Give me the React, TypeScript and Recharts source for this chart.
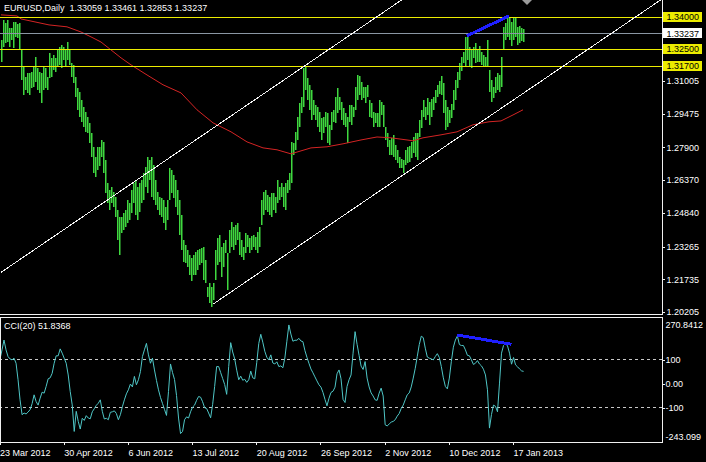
import { Bar, ComposedChart, Line, ReferenceLine, XAxis, YAxis } from "recharts";

const FONT = '"Liberation Sans", Arial, sans-serif';
const BG = "#000000";
const FRAME = "#f0f0f0";
const BAR_GREEN = "#3fd83f";
const MA_RED = "#d42424";
const CCI_TEAL = "#4fc6c6";
const LEVEL_YELLOW = "#ecec00";
const BID_GRAY = "#8a96a3";
const TREND_BLUE = "#1f1fff";
const CHANNEL_WHITE = "#f4f4f4";

const W = 706;
const H = 462;
const AXIS_X = 662;
const MAIN_H = 315;
const CCI_TOP = 316;
const CCI_H = 146;
const SLOTS = 331; // bar slots across the plot, the rest is empty space to the right

// x axis: bar index of each date label
const DATE_BARS = [0, 32, 64, 96, 128, 160, 192, 224, 256];
const DATE_LABELS = [
  "23 Mar 2012", "30 Apr 2012", "6 Jun 2012", "13 Jul 2012", "20 Aug 2012",
  "26 Sep 2012", "2 Nov 2012", "10 Dec 2012", "17 Jan 2013",
];

// EURUSD daily highs / lows
const HIGHS = [
  1.3293, 1.3387, 1.3372, 1.3386, 1.3349, 1.3349, 1.3377, 1.3377, 1.3368, 1.3372,
  1.3246, 1.3167, 1.3120, 1.3139, 1.3139, 1.3143, 1.3167, 1.3214, 1.3162, 1.3143,
  1.3139, 1.3167, 1.3160, 1.3120, 1.3232, 1.3209, 1.3223, 1.3209, 1.3246, 1.3260,
  1.3270, 1.3260, 1.3246, 1.3284, 1.3246, 1.3185, 1.3176, 1.3120, 1.3069, 1.3050,
  1.3012, 1.2980, 1.2956, 1.2933, 1.2905, 1.2858, 1.2793, 1.2746, 1.2793, 1.2790,
  1.2825, 1.2816, 1.2732, 1.2624, 1.2592, 1.2606, 1.2582, 1.2559, 1.2498, 1.2465,
  1.2465, 1.2484, 1.2498, 1.2545, 1.2531, 1.2592, 1.2624, 1.2638, 1.2606, 1.2624,
  1.2638, 1.2671, 1.2699, 1.2746, 1.2732, 1.2746, 1.2708, 1.2638, 1.2582, 1.2559,
  1.2554, 1.2545, 1.2512, 1.2545, 1.2694, 1.2685, 1.2662, 1.2638, 1.2592, 1.2545,
  1.2475, 1.2358, 1.2334, 1.2311, 1.2288, 1.2274, 1.2288, 1.2302, 1.2311, 1.2316,
  1.2320, 1.2325, 1.2264, 1.2138, 1.2157, 1.2138, 1.2157, 1.2311, 1.2367, 1.2381,
  1.2325, 1.2344, 1.2358, 1.2297, 1.2405, 1.2442, 1.2419, 1.2428, 1.2437, 1.2395,
  1.2358, 1.2325, 1.2391, 1.2381, 1.2367, 1.2376, 1.2381, 1.2372, 1.2395, 1.2419,
  1.2545, 1.2582, 1.2592, 1.2568, 1.2559, 1.2578, 1.2578, 1.2559, 1.2638, 1.2606,
  1.2624, 1.2606, 1.2624, 1.2638, 1.2671, 1.2816, 1.2811, 1.2863, 1.2933, 1.2998,
  1.3026, 1.3162, 1.3171, 1.3115, 1.3083, 1.3059, 1.3012, 1.2989, 1.2980, 1.2956,
  1.2928, 1.2933, 1.2956, 1.2952, 1.2896, 1.2956, 1.2966, 1.3026, 1.3069, 1.3026,
  1.3003, 1.2975, 1.2952, 1.2933, 1.2989, 1.2989, 1.2980, 1.3073, 1.3129, 1.3125,
  1.3097, 1.3073, 1.3073, 1.3083, 1.3012, 1.2998, 1.2956, 1.2952, 1.2952, 1.3012,
  1.3003, 1.2989, 1.2886, 1.2858, 1.2825, 1.2835, 1.2849, 1.2802, 1.2779, 1.2746,
  1.2737, 1.2732, 1.2779, 1.2793, 1.2797, 1.2816, 1.2839, 1.2858, 1.2858, 1.2919,
  1.2966, 1.3012, 1.2980, 1.3022, 1.3003, 1.3017, 1.3026, 1.3059, 1.3083, 1.3101,
  1.3125, 1.3092, 1.3012, 1.2980, 1.2966, 1.2994, 1.3059, 1.3106, 1.3143, 1.3185,
  1.3214, 1.3237, 1.3307, 1.3307, 1.3260, 1.3246, 1.3260, 1.3279, 1.3246, 1.3265,
  1.3237, 1.3223, 1.3214, 1.3293, 1.3153, 1.3106, 1.3073, 1.3120, 1.3139, 1.3129,
  1.3214, 1.3354, 1.3372, 1.3400, 1.3396, 1.3377, 1.3396, 1.3396, 1.3354, 1.3358,
  1.3349, 1.33461,
];

const LOWS = [
  1.3190, 1.3260, 1.3279, 1.3284, 1.3260, 1.3293, 1.3256, 1.3307, 1.3302, 1.3246,
  1.3106, 1.3036, 1.3059, 1.3045, 1.3036, 1.3069, 1.3073, 1.3097, 1.3059, 1.3045,
  1.2998, 1.3059, 1.3066, 1.3059, 1.3115, 1.3120, 1.3153, 1.3143, 1.3167, 1.3176,
  1.3162, 1.3199, 1.3167, 1.3199, 1.3176, 1.3120, 1.3092, 1.3026, 1.2966, 1.2933,
  1.2910, 1.2886, 1.2863, 1.2858, 1.2811, 1.2746, 1.2671, 1.2652, 1.2685, 1.2699,
  1.2746, 1.2671, 1.2578, 1.2531, 1.2498, 1.2531, 1.2512, 1.2465, 1.2358, 1.2288,
  1.2391, 1.2405, 1.2419, 1.2437, 1.2451, 1.2484, 1.2531, 1.2475, 1.2451, 1.2489,
  1.2531, 1.2545, 1.2606, 1.2578, 1.2638, 1.2559, 1.2545, 1.2521, 1.2498, 1.2475,
  1.2465, 1.2437, 1.2405, 1.2451, 1.2545, 1.2578, 1.2554, 1.2512, 1.2475, 1.2381,
  1.2311, 1.2255, 1.2250, 1.2232, 1.2194, 1.2166, 1.2194, 1.2194, 1.2218, 1.2241,
  1.2250, 1.2171, 1.2157, 1.2091, 1.2063, 1.2043, 1.2077, 1.2171, 1.2241, 1.2255,
  1.2185, 1.2232, 1.2297, 1.2124, 1.2297, 1.2325, 1.2311, 1.2334, 1.2358, 1.2288,
  1.2278, 1.2264, 1.2297, 1.2325, 1.2297, 1.2311, 1.2325, 1.2311, 1.2297, 1.2325,
  1.2428, 1.2475, 1.2498, 1.2489, 1.2475, 1.2465, 1.2498, 1.2484, 1.2531, 1.2545,
  1.2559, 1.2512, 1.2498, 1.2578, 1.2592, 1.2624, 1.2755, 1.2779, 1.2825, 1.2886,
  1.2952, 1.2980, 1.3059, 1.3012, 1.2966, 1.2919, 1.2942, 1.2919, 1.2886, 1.2863,
  1.2825, 1.2858, 1.2886, 1.2811, 1.2802, 1.2872, 1.2910, 1.2905, 1.2952, 1.2966,
  1.2919, 1.2896, 1.2886, 1.2811, 1.2910, 1.2896, 1.2933, 1.2966, 1.3012, 1.3036,
  1.3012, 1.3022, 1.2998, 1.3026, 1.2933, 1.2928, 1.2886, 1.2905, 1.2886, 1.2886,
  1.2942, 1.2886, 1.2825, 1.2793, 1.2755, 1.2755, 1.2746, 1.2732, 1.2718, 1.2694,
  1.2694, 1.2671, 1.2708, 1.2718, 1.2723, 1.2741, 1.2765, 1.2746, 1.2732, 1.2839,
  1.2882, 1.2933, 1.2919, 1.2942, 1.2896, 1.2933, 1.2966, 1.2998, 1.3026, 1.3041,
  1.3036, 1.2952, 1.2872, 1.2886, 1.2905, 1.2928, 1.2966, 1.3012, 1.3069, 1.3106,
  1.3148, 1.3185, 1.3167, 1.3199, 1.3171, 1.3162, 1.3209, 1.3185, 1.3190, 1.3190,
  1.3176, 1.3167, 1.3167, 1.3167, 1.3050, 1.3003, 1.3022, 1.3045, 1.3059, 1.3050,
  1.3073, 1.3246, 1.3293, 1.3307, 1.3293, 1.3265, 1.3293, 1.3307, 1.3270, 1.3279,
  1.3288, 1.32853,
];

// moving average, sampled where it could be read
const MA_BARS = [
  0, 8, 10, 24, 33, 40, 45, 50, 55, 60, 65, 73, 81, 90, 98, 106, 115, 123, 131,
  138, 145, 155, 163, 171, 180, 188, 195, 203, 206, 211, 220, 228, 236, 244, 250, 256, 261,
];
const MA_VALUES = [
  1.3410, 1.3405, 1.3391, 1.3363, 1.3354, 1.3330, 1.3307, 1.3283, 1.3246, 1.3209,
  1.3176, 1.3129, 1.3083, 1.3045, 1.2966, 1.2905, 1.2863, 1.2816, 1.2788, 1.2779,
  1.2760, 1.2788, 1.2793, 1.2807, 1.2825, 1.2839, 1.2835, 1.2825, 1.2821, 1.2835,
  1.2849, 1.2863, 1.2896, 1.2910, 1.2914, 1.2942, 1.2966,
];

// CCI(20)
const CCI = [
  103, 142, 183, 142, 114, 104, 100, 107, 86, 17,
  -67, -129, -122, -126, -118, -108, -83, -46, -74, -89,
  -60, -35, -39, -11, 21, 25, 44, 86, 117, 117,
  146, 128, 107, 86, 37, -32, -88, -199, -115, -157,
  -189, -144, -153, -133, -143, -146, -117, -104, -90, -81,
  -67, -115, -147, -144, -150, -119, -117, -113, -124, -150,
  -129, -96, -67, -42, -25, -1, -13, 31, -4, 17,
  51, 114, 142, 169, 121, 86, 107, 58, 14, -25,
  -57, -82, -107, -132, -32, 83, 47, 18, -49, -143,
  -208, -199, -150, -138, -143, -117, -97, -89, -69, -53,
  -56, -75, -100, -103, -122, -142, -86, -11, 72, 72,
  47, 22, -3, -44, 72, 172, 133, 104, 57, 17,
  32, 15, 19, 6, 17, 53, 25, 21, 90, 169,
  207, 174, 136, 111, 100, 121, 87, 83, 92, 72,
  75, 67, 108, 178, 246, 208, 178, 182, 182, 190,
  179, 176, 139, 111, 86, 62, 46, 29, 12, -4,
  -14, -36, -65, -92, -60, -36, -31, -14, 42, 58,
  21, -65, -78, -11, 17, 37, 128, 218, 165, 119,
  74, 60, 93, 24, -13, -38, -51, -67, -69, -39,
  -18, -51, -171, -176, -168, -160, -157, -150, -135, -124,
  -103, -89, -67, -46, -38, -13, 24, 65, 114, 164,
  199, 193, 149, 112, 107, 104, 100, 114, 126, 110,
  72, 25, -11, -21, 24, 94, 153, 183, 200, 164,
  160, 160, 142, 119, 117, 100, 81, 86, 97, 83,
  75, 61, 37, -25, -185, -128, -89, -94, -117, 3,
  128, 160, 169, 158, 128, 82, 110, 79, 71, 62,
  54, 52,
];

// price scale
const PRICE_MIN = 1.20065;
const PRICE_MAX = 1.34795;
const PRICE_TICKS = [1.34, 1.33237, 1.325, 1.317, 1.31005, 1.29475, 1.279, 1.2637, 1.2484, 1.23265, 1.21735, 1.20205];
const LEVELS = [1.34, 1.325, 1.317];
const BID = 1.33237;

// CCI scale
const CCI_MIN = -243.099;
const CCI_MAX = 270.8412;
const CCI_TICKS = [270.8412, 100, 0, -100, -243.099];
const CCI_TICK_LABELS = ["270.8412", "100", "0.00", "-100", "-243.099"];
const CCI_BANDS = [100, -100];

// hand drawn objects: [bar, value]
const CHANNEL_UPPER = [[0, 1.2206], [220, 1.3605]];
const CHANNEL_LOWER = [[106, 1.2057], [330, 1.3481]];
const PRICE_TREND = [[233, 1.3312], [254, 1.3405]];
const CCI_TREND = [[228, 204], [255, 165]];

const maByBar = new Map(MA_BARS.map((b, k) => [b, MA_VALUES[k]]));
const rows = Array.from({ length: SLOTS }, (_, i) => ({
  i,
  hl: i < HIGHS.length ? [LOWS[i], HIGHS[i]] : null,
  ma: maByBar.has(i) ? maByBar.get(i) : null,
  cci: i < CCI.length ? CCI[i] : null,
}));

const seg = (s: number[][]) => s.map(([x, y]) => ({ x, y }));

const CSS = `.recharts-surface line, .recharts-surface rect { shape-rendering: crispEdges; }`;

// 1px stroke with a soft right edge, like the MT4 bar chart at this zoom
function PriceBar(p: any) {
  if (!p.payload || !p.payload.hl || !isFinite(p.y) || !isFinite(p.height)) return <g />;
  const top = Math.round(Math.min(p.y, p.y + p.height));
  const h = Math.max(1, Math.round(Math.abs(p.height)));
  const left = Math.round(p.x + p.width / 2 - 0.5);
  return <rect x={left} y={top} width={1.5} height={h} fill={BAR_GREEN} style={{ shapeRendering: "auto" }} />;
}

function PriceTick({ y, payload }: any) {
  const v = payload.value;
  const box = LEVELS.includes(v) ? LEVEL_YELLOW : v === BID ? "#ffffff" : null;
  const yy = Math.round(y) + 0.5;
  return (
    <g>
      {box ? (
        <rect x={AXIS_X + 1} y={Math.round(y) - 5} width={39} height={10} fill={box} />
      ) : (
        <line x1={AXIS_X} x2={AXIS_X + 3} y1={yy} y2={yy} stroke={FRAME} />
      )}
      <text x={AXIS_X + 4.5} y={y + 3.3} fill={box ? "#000" : "#fff"} fontSize={9} fontFamily={FONT}>
        {v.toFixed(5)}
      </text>
    </g>
  );
}

function CciTick({ y, payload }: any) {
  const k = CCI_TICKS.indexOf(payload.value);
  const shift = k === 0 ? 6 : k === CCI_TICKS.length - 1 ? -5.3 : 0;
  const yy = Math.round(y) + 0.5;
  return (
    <g>
      {shift === 0 && <line x1={AXIS_X} x2={AXIS_X + 3} y1={yy} y2={yy} stroke={FRAME} />}
      <text x={AXIS_X + 3.5} y={y + shift + 3.3} fill="#fff" fontSize={9} fontFamily={FONT}>
        {CCI_TICK_LABELS[k]}
      </text>
    </g>
  );
}

function DateTick({ x, y, payload }: any) {
  const k = DATE_BARS.indexOf(payload.value);
  return (
    <text x={x} y={y + 9} fill="#fff" fontSize={9} fontFamily={FONT}>
      {DATE_LABELS[k]}
    </text>
  );
}

const line = (style: any) => <div style={{ position: "absolute", background: FRAME, ...style }} />;

export default function App() {
  return (
    <div style={{ position: "absolute", left: 0, top: 0, width: W, height: H, background: BG, overflow: "hidden" }}>
      <style>{CSS}</style>

      <div style={{ position: "absolute", left: 0, top: 0 }}>
        <ComposedChart width={W} height={MAIN_H + 4} data={rows} margin={{ top: 0, right: 0, bottom: 4, left: 0 }}>
          <XAxis dataKey="i" hide />
          <YAxis
            orientation="right"
            width={W - AXIS_X}
            domain={[PRICE_MIN, PRICE_MAX]}
            allowDataOverflow
            ticks={PRICE_TICKS}
            interval={0}
            axisLine={false}
            tickLine={false}
            tick={(p: any) => <PriceTick {...p} />}
          />
          <Bar
            dataKey="hl"
            barSize={1}
            fill={BAR_GREEN}
            shape={(p: any) => <PriceBar {...p} />}
            activeBar={false}
            isAnimationActive={false}
          />
          <Line
            type="linear"
            dataKey="ma"
            connectNulls
            dot={false}
            activeDot={false}
            stroke={MA_RED}
            strokeWidth={1}
            isAnimationActive={false}
          />
          {LEVELS.map((v) => (
            <ReferenceLine key={v} y={v} stroke={LEVEL_YELLOW} strokeWidth={1} />
          ))}
          <ReferenceLine y={BID} stroke={BID_GRAY} strokeWidth={1} />
          <ReferenceLine segment={seg(CHANNEL_UPPER)} stroke={CHANNEL_WHITE} strokeWidth={1} ifOverflow="hidden" />
          <ReferenceLine segment={seg(CHANNEL_LOWER)} stroke={CHANNEL_WHITE} strokeWidth={1} ifOverflow="hidden" />
          <ReferenceLine segment={seg(PRICE_TREND)} stroke={TREND_BLUE} strokeWidth={3} ifOverflow="visible" />
        </ComposedChart>
      </div>

      <div style={{ position: "absolute", left: 0, top: CCI_TOP }}>
        <ComposedChart width={W} height={CCI_H} data={rows} margin={{ top: 3, right: 0, bottom: 0, left: 0 }}>
          <XAxis
            dataKey="i"
            ticks={DATE_BARS}
            interval={0}
            height={20}
            axisLine={false}
            tickSize={3}
            tickLine={{ stroke: FRAME }}
            tick={(p: any) => <DateTick {...p} />}
          />
          <YAxis
            orientation="right"
            width={W - AXIS_X}
            domain={[CCI_MIN, CCI_MAX]}
            allowDataOverflow
            ticks={CCI_TICKS}
            interval={0}
            axisLine={false}
            tickLine={false}
            tick={(p: any) => <CciTick {...p} />}
          />
          {CCI_BANDS.map((v) => (
            <ReferenceLine key={v} y={v} stroke="#c8c8c8" strokeDasharray="3 3" />
          ))}
          <Line
            type="linear"
            dataKey="cci"
            dot={false}
            activeDot={false}
            stroke={CCI_TEAL}
            strokeWidth={1}
            isAnimationActive={false}
          />
          <ReferenceLine segment={seg(CCI_TREND)} stroke={TREND_BLUE} strokeWidth={3} ifOverflow="visible" />
        </ComposedChart>
      </div>

      {/* panel frames */}
      {line({ left: AXIS_X, top: 0, width: 1, height: MAIN_H })}
      {line({ left: 0, top: MAIN_H - 1, width: AXIS_X + 1, height: 1 })}
      {line({ left: 0, top: 317, width: AXIS_X + 1, height: 1 })}
      {line({ left: 0, top: 317, width: 1, height: 126 })}
      {line({ left: AXIS_X, top: 317, width: 1, height: 126 })}
      {line({ left: 0, top: 442, width: AXIS_X + 1, height: 1 })}

      <svg style={{ position: "absolute", left: 522, top: 0 }} width={11} height={6}>
        <polygon points="0,0 10,0 5,5" fill="#9a9a9a" />
      </svg>

      <div style={{ position: "absolute", left: 4, top: 2, color: "#fff", fontSize: 9, lineHeight: "12px", fontFamily: FONT, whiteSpace: "pre" }}>
        {"EURUSD,Daily  1.33059 1.33461 1.32853 1.33237"}
      </div>
      <div style={{ position: "absolute", left: 4, top: 320, color: "#fff", fontSize: 9, lineHeight: "12px", fontFamily: FONT, whiteSpace: "pre" }}>
        {"CCI(20) 51.8368"}
      </div>
    </div>
  );
}
